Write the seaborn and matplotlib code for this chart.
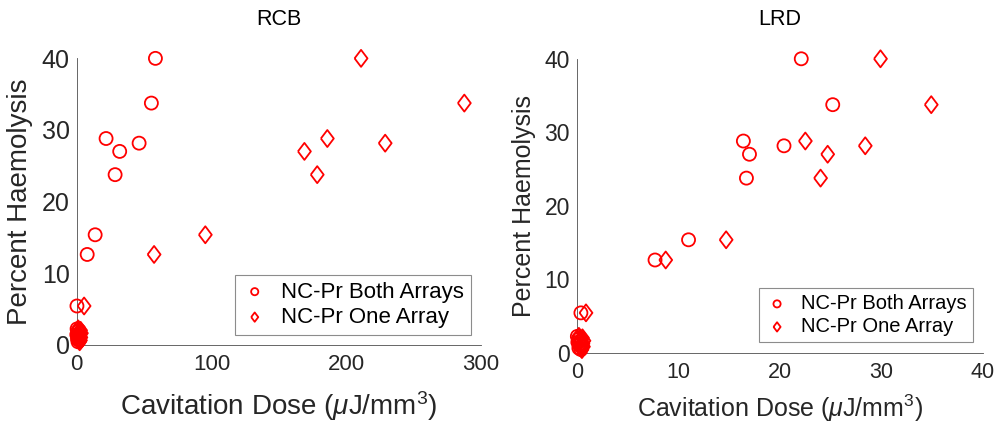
import matplotlib
matplotlib.use("Agg")
import matplotlib.pyplot as plt
import seaborn as sns
import pandas as pd

# Percent haemolysis per sample (shared by both panels)
haemolysis = [40.0, 33.75, 28.8, 27.0, 28.15, 23.75, 15.35, 12.6, 5.4,
              2.2, 2.0, 1.8, 1.6, 1.4, 1.2, 1.0, 0.8, 0.6, 0.4]

# Cavitation dose (uJ/mm^3), RCB metric
rcb_both = [58.5, 55.5, 21.9, 32.0, 46.4, 28.6, 13.8, 7.9, 0.3,
            0.4, 1.8, 0.9, 2.4, 0.2, 1.5, 2.2, 0.7, 1.9, 1.1]
rcb_one = [211.0, 287.6, 186.0, 169.0, 228.9, 178.5, 95.5, 57.5, 5.6,
           1.2, 3.0, 2.0, 3.6, 1.5, 2.6, 3.2, 1.8, 2.9, 2.3]

# Cavitation dose (uJ/mm^3), LRD metric
lrd_both = [22.1, 25.2, 16.4, 17.0, 20.4, 16.7, 11.0, 7.7, 0.4,
            0.05, 0.3, 0.15, 0.45, 0.1, 0.35, 0.25, 0.5, 0.2, 0.4]
lrd_one = [29.9, 34.9, 22.5, 24.7, 28.4, 24.0, 14.7, 8.75, 0.9,
           0.2, 0.55, 0.35, 0.7, 0.3, 0.6, 0.45, 0.65, 0.4, 0.5]

series_labels = ["NC-Pr Both Arrays", "NC-Pr One Array"]
panel_titles = ["RCB", "LRD"]
x_limits = [(0, 300), (0, 40)]
x_ticks = [[0, 100, 200, 300], [0, 10, 20, 30, 40]]
y_ticks = [0, 10, 20, 30, 40]

sns.set_style("white")
plt.rcParams["font.family"] = ["Liberation Sans", "DejaVu Sans"]
plt.rcParams["mathtext.fontset"] = "custom"
plt.rcParams["mathtext.it"] = "Liberation Sans:italic"
plt.rcParams["mathtext.rm"] = "Liberation Sans"

axis_grey = "#262626"
spine_grey = "#4d4d4d"
red = "#ff0000"

# diamond outline, a little wider than matplotlib's thin diamond
diamond = [(-0.38, 0.0), (0.0, 0.5), (0.38, 0.0), (0.0, -0.5), (-0.38, 0.0)]

fig = plt.figure(figsize=(9.98, 4.26), dpi=100)
ax_l = fig.add_axes([0.0767, 0.191, 0.4053, 0.672])
ax_r = fig.add_axes([0.578, 0.1725, 0.407, 0.6895])

panels = [
    (ax_l, rcb_both, rcb_one,
     dict(ytick=18, xtick=16, label=20, legend=16, title=15.5, xpad=10, ypad=6)),
    (ax_r, lrd_both, lrd_one,
     dict(ytick=16.5, xtick=15.5, label=18, legend=14.5, title=15.5, xpad=7, ypad=6)),
]

for i, (ax, xb, xo, fs) in enumerate(panels):
    df_b = pd.DataFrame({"dose": xb, "haem": haemolysis})
    df_o = pd.DataFrame({"dose": xo, "haem": haemolysis})
    sns.scatterplot(data=df_b, x="dose", y="haem", ax=ax, marker="o", s=88,
                    color=red, facecolor="none", edgecolor=red, linewidth=1.3,
                    label=series_labels[0], clip_on=False, zorder=3)
    sns.scatterplot(data=df_o, x="dose", y="haem", ax=ax, marker=diamond, s=150,
                    color=red, facecolor="none", edgecolor=red, linewidth=1.3,
                    label=series_labels[1], clip_on=False, zorder=3)

    ax.set_xlim(*x_limits[i])
    ax.set_ylim(0, 40)
    ax.set_xticks(x_ticks[i])
    ax.set_yticks(y_ticks)
    for side in ("top", "right"):
        ax.spines[side].set_visible(False)
    for side in ("left", "bottom"):
        ax.spines[side].set_color(spine_grey)
        ax.spines[side].set_linewidth(0.6)
    ax.tick_params(axis="both", direction="in", length=4, width=0.6,
                   color=spine_grey, labelcolor=axis_grey)
    ax.tick_params(axis="x", labelsize=fs["xtick"], pad=7)
    ax.tick_params(axis="y", labelsize=fs["ytick"], pad=5)
    ax.set_xlabel(r"Cavitation Dose ($\mu$J/mm$^3$)", fontsize=fs["label"],
                  color=axis_grey, labelpad=fs["xpad"])
    ax.set_ylabel("Percent Haemolysis", fontsize=fs["label"], color=axis_grey,
                  labelpad=fs["ypad"])
    ax.set_title(panel_titles[i], fontsize=fs["title"], color="black", pad=24)

    leg = ax.legend(loc="lower right", bbox_to_anchor=(0.975, 0.035),
                    fontsize=fs["legend"], markerscale=0.55, frameon=True,
                    fancybox=False, framealpha=1, edgecolor="#8c8c8c",
                    borderpad=0.3, labelspacing=0.2, handletextpad=0.6,
                    handlelength=1.2, borderaxespad=0)
    leg.get_frame().set_linewidth(0.8)
    for t in leg.get_texts():
        t.set_color("black")

fig.savefig("out.png", dpi=100)
